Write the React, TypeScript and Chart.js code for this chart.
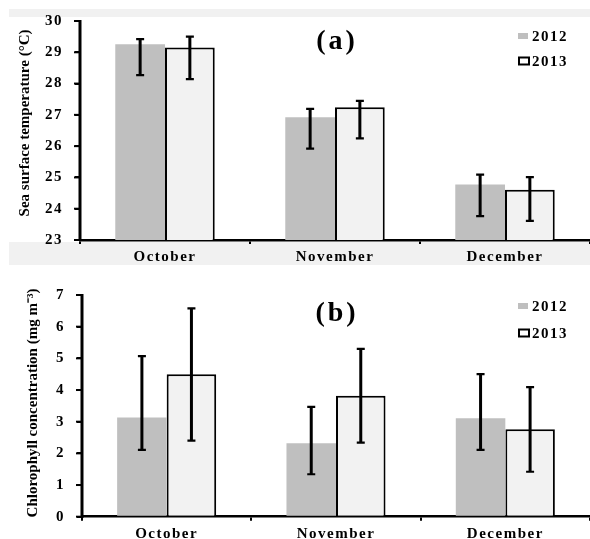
import React, { useEffect, useRef } from 'react';
import { Chart, registerables } from 'chart.js';
Chart.register(...registerables);

const months = ['October', 'November', 'December'];
const seriesNames = ['2012', '2013'];

const sst2012 = [29.26, 26.92, 24.77];
const sst2013 = [29.15, 27.24, 24.61];
const sst2012Low = [28.27, 25.92, 23.76];
const sst2012High = [29.42, 27.19, 25.09];
const sst2013Low = [28.14, 26.25, 23.61];
const sst2013High = [29.5, 27.45, 25.01];
const sstRange = [23, 30];

const chl2012 = [3.13, 2.32, 3.11];
const chl2013 = [4.5, 3.82, 2.76];
const chl2012Low = [2.11, 1.34, 2.11];
const chl2012High = [5.07, 3.47, 4.5];
const chl2013Low = [2.4, 2.34, 1.42];
const chl2013High = [6.58, 5.3, 4.09];
const chlRange = [0, 7];

const sstTitle = 'Sea surface temperature (°C)';
const chlTitle = 'Chlorophyll concentration (mg m⁻³)';

const FONT = '"Liberation Serif", "Times New Roman", serif';
const GRAY = '#bfbfbf';
const LIGHT = '#f2f2f2';

function errorBarPlugin(lows: number[][], highs: number[][]) {
  return {
    id: 'errbars',
    afterDatasetsDraw(chart: any) {
      const ctx = chart.ctx;
      const ys = chart.scales.y;
      ctx.save();
      ctx.strokeStyle = '#000';
      ctx.lineCap = 'butt';
      chart.data.datasets.forEach((_ds: any, i: number) => {
        const meta = chart.getDatasetMeta(i);
        meta.data.forEach((el: any, j: number) => {
          const x = el.x;
          const y1 = ys.getPixelForValue(lows[i][j]);
          const y2 = ys.getPixelForValue(highs[i][j]);
          ctx.lineWidth = 3;
          ctx.beginPath();
          ctx.moveTo(x, y1);
          ctx.lineTo(x, y2);
          ctx.stroke();
          ctx.lineWidth = 2.2;
          ctx.beginPath();
          ctx.moveTo(x - 4, y1);
          ctx.lineTo(x + 4, y1);
          ctx.moveTo(x - 4, y2);
          ctx.lineTo(x + 4, y2);
          ctx.stroke();
        });
      });
      ctx.restore();
    },
  };
}

function decorPlugin(o: {
  label: string;
  titleY: number;
  legY: number[];
  bands: boolean;
  yTitle: string;
  yTitleX: number;
  yTitleY: number;
}) {
  return {
    id: 'decor',
    beforeDraw(chart: any) {
      const ctx = chart.ctx;
      ctx.save();
      ctx.fillStyle = '#fff';
      ctx.fillRect(0, 0, chart.width, chart.height);
      if (o.bands) {
        ctx.fillStyle = '#f1f1f1';
        ctx.fillRect(9, 9, chart.width - 9, 8);
        ctx.fillRect(9, 242, chart.width - 9, 23);
      }
      ctx.restore();
      (ctx as any).letterSpacing = '1.5px';
    },
    afterDraw(chart: any) {
      const ctx = chart.ctx;
      const ys = chart.scales.y;
      const area = chart.chartArea;
      ctx.save();
      // y axis line and tick marks, from the library's y scale
      ctx.fillStyle = '#000';
      ctx.fillRect(area.left - 1.5, ys.top - 1, 2.5, ys.bottom - ys.top + 2);
      ys.ticks.forEach((t: any) => {
        const py = ys.getPixelForValue(t.value);
        ctx.fillRect(area.left - 6, py - 1, 6, 2);
      });
      // axis title (vertical)
      (ctx as any).letterSpacing = '0px';
      ctx.font = 'bold 15px ' + FONT;
      ctx.textAlign = 'center';
      ctx.textBaseline = 'middle';
      ctx.save();
      ctx.translate(o.yTitleX, o.yTitleY);
      ctx.rotate(-Math.PI / 2);
      ctx.fillText(o.yTitle, 0, 0);
      ctx.restore();
      // panel label
      (ctx as any).letterSpacing = '3px';
      ctx.font = 'bold 28px ' + FONT;
      ctx.fillText(o.label, 337, o.titleY);
      // legend
      (ctx as any).letterSpacing = '1.5px';
      ctx.font = 'bold 15px ' + FONT;
      ctx.textAlign = 'left';
      ctx.fillStyle = GRAY;
      ctx.fillRect(518, o.legY[0] - 3, 10, 6);
      ctx.fillStyle = '#000';
      ctx.fillText(seriesNames[0], 532, o.legY[0] + 1);
      ctx.fillStyle = '#fff';
      ctx.fillRect(519, o.legY[1] - 3.5, 10, 7);
      ctx.strokeStyle = '#000';
      ctx.lineWidth = 2;
      ctx.strokeRect(519, o.legY[1] - 3.5, 10, 7);
      ctx.fillStyle = '#000';
      ctx.fillText(seriesNames[1], 532, o.legY[1] + 1);
      ctx.restore();
    },
  };
}

function buildChart(
  canvas: HTMLCanvasElement,
  p: {
    d2012: number[];
    d2013: number[];
    lows: number[][];
    highs: number[][];
    range: number[];
    axisLeft: number;
    top: number;
    xHeight: number;
    decor: any;
  }
) {
  return new Chart(canvas, {
    type: 'bar',
    data: {
      labels: months,
      datasets: [
        {
          label: seriesNames[0],
          data: p.d2012,
          backgroundColor: GRAY,
          borderWidth: 0,
          categoryPercentage: 0.585,
          barPercentage: 1,
        },
        {
          label: seriesNames[1],
          data: p.d2013,
          backgroundColor: LIGHT,
          borderColor: '#000',
          borderWidth: 2,
          categoryPercentage: 0.585,
          barPercentage: 1,
        },
      ],
    },
    options: {
      responsive: false,
      animation: false,
      events: [],
      layout: { padding: { left: 0, right: 0, top: p.top, bottom: 0 } },
      plugins: { legend: { display: false }, tooltip: { enabled: false } },
      scales: {
        x: {
          grid: {
            display: true,
            drawOnChartArea: false,
            drawTicks: true,
            tickLength: 4,
            color: '#000',
            lineWidth: 2,
            offset: true,
          },
          border: { display: true, color: '#000', width: 2.5 },
          ticks: {
            color: '#000',
            font: { family: FONT, size: 15, weight: 'bold' },
            padding: 4,
            maxRotation: 0,
            autoSkip: false,
          },
          afterFit: (s: any) => {
            s.height = p.xHeight;
          },
        },
        y: {
          min: p.range[0],
          max: p.range[1],
          grid: {
            display: true,
            drawOnChartArea: false,
            drawTicks: true,
            tickLength: 5,
            color: '#000',
            lineWidth: 2,
          },
          border: { display: true, color: '#000', width: 2.5 },
          ticks: {
            stepSize: 1,
            color: '#000',
            font: { family: FONT, size: 15, weight: 'bold' },
            padding: 12,
          },
          afterFit: (s: any) => {
            s.width = p.axisLeft;
          },
        },
      },
    } as any,
    plugins: [errorBarPlugin(p.lows, p.highs), decorPlugin(p.decor)],
  });
}

export default function App() {
  const refA = useRef<HTMLCanvasElement | null>(null);
  const refB = useRef<HTMLCanvasElement | null>(null);

  useEffect(() => {
    const a = buildChart(refA.current as HTMLCanvasElement, {
      d2012: sst2012,
      d2013: sst2013,
      lows: [sst2012Low, sst2013Low],
      highs: [sst2012High, sst2013High],
      range: sstRange,
      axisLeft: 80,
      top: 20,
      xHeight: 30,
      decor: {
        label: '(a)',
        titleY: 42,
        legY: [36, 61],
        bands: true,
        yTitle: sstTitle,
        yTitleX: 25,
        yTitleY: 123,
      },
    });
    const b = buildChart(refB.current as HTMLCanvasElement, {
      d2012: chl2012,
      d2013: chl2013,
      lows: [chl2012Low, chl2013Low],
      highs: [chl2012High, chl2013High],
      range: chlRange,
      axisLeft: 82,
      top: 25,
      xHeight: 22.3,
      decor: {
        label: '(b)',
        titleY: 44,
        legY: [36, 63],
        bands: false,
        yTitle: chlTitle,
        yTitleX: 33,
        yTitleY: 133,
      },
    });
    return () => {
      a.destroy();
      b.destroy();
    };
  }, []);

  return (
    <div style={{ position: 'absolute', left: 0, top: 0, width: 590, height: 539, background: '#fff' }}>
      <canvas ref={refA} width={590} height={270} style={{ display: 'block' }} />
      <canvas ref={refB} width={590} height={269} style={{ display: 'block' }} />
    </div>
  );
}
